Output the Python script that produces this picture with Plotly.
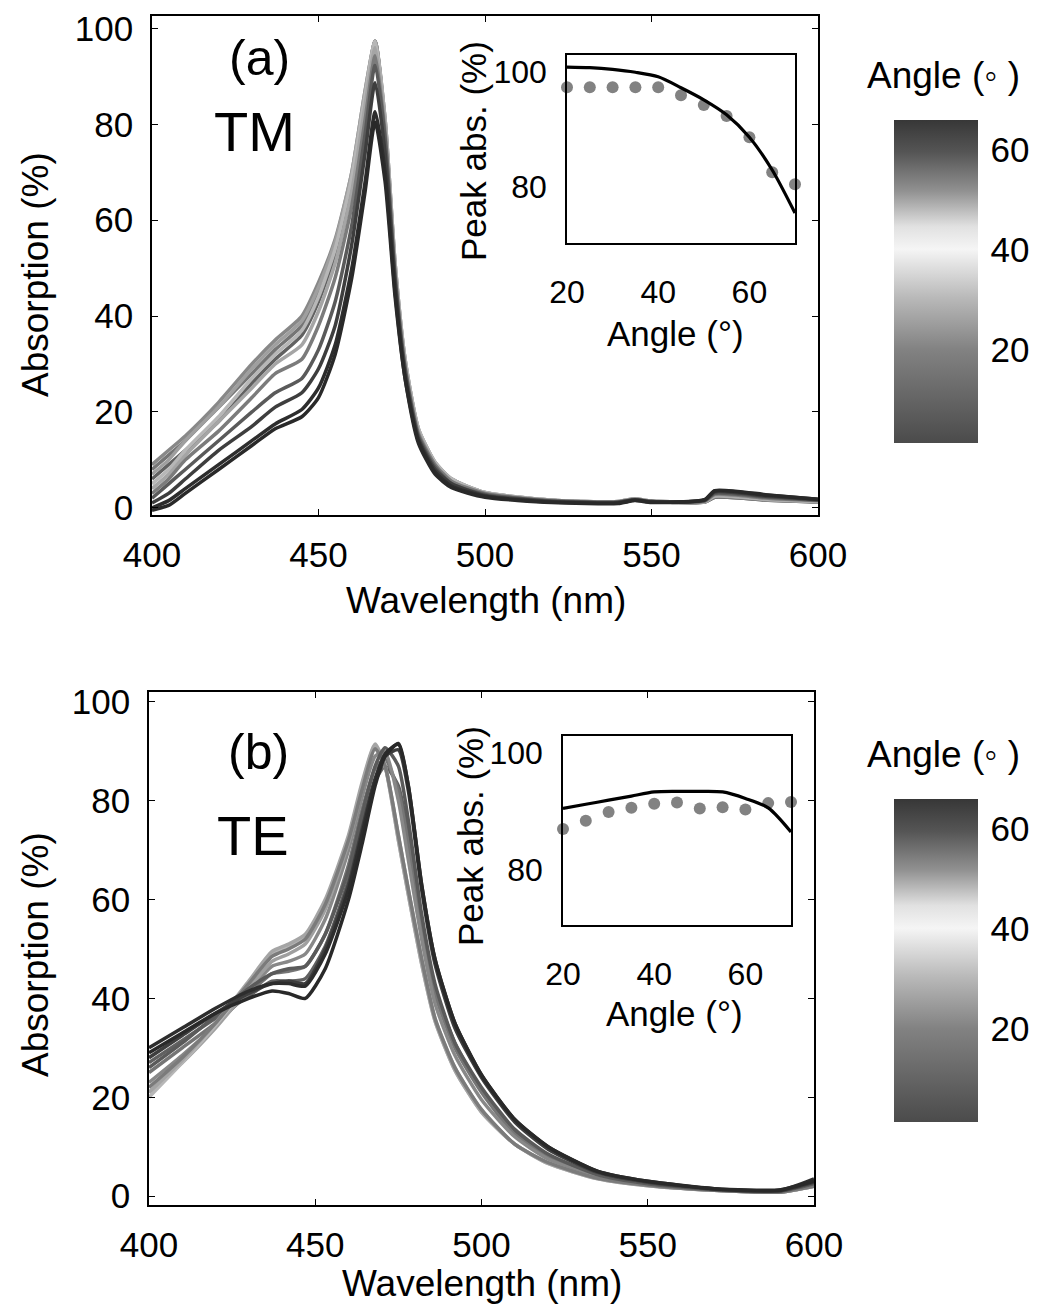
import plotly.graph_objects as go
from plotly.colors import sample_colorscale

# page body has an 8 px default margin: size the figure so it fits the 1039x1316 window
OFF = 8
FW, FH = 1039 - OFF, 1316 - OFF

# ---------------- data ----------------
angles = [20, 25, 30, 35, 40, 45, 50, 55, 60, 65, 70]

wl_tm = [400, 405, 410, 420, 430, 437, 445, 450, 455, 460, 464, 467, 470, 473, 476,
         480, 485, 490, 500, 520, 540, 545, 550, 566, 569, 585, 600]
abs_tm = {
    20: [6, 9, 12, 18, 26, 31, 36, 43, 53, 68, 85, 97.4, 80, 50, 30, 16, 9, 5.5, 3, 1.5, 1.2, 1.8, 1.3, 1.2, 2.2, 1.6, 1.2],
    25: [8, 11, 14, 21, 28, 33, 38, 45, 55, 69, 86, 97.4, 80, 50, 30, 16, 9, 5.5, 3, 1.5, 1.2, 1.8, 1.3, 1.2, 2.2, 1.6, 1.2],
    30: [9, 12, 15, 22, 30, 35, 40, 47, 56, 70, 87, 97.4, 81, 51, 31, 16.5, 9.5, 6, 3.2, 1.6, 1.3, 1.9, 1.4, 1.3, 2.4, 1.7, 1.3],
    35: [7, 10, 14, 21, 29, 34, 39, 46, 55.5, 70, 87, 97.4, 81, 51, 31, 16.5, 9.5, 6, 3.2, 1.6, 1.3, 1.9, 1.4, 1.3, 2.4, 1.7, 1.3],
    40: [5, 8, 12, 19, 27, 32, 37, 44, 54, 69, 86, 97.4, 81, 51, 31, 16.5, 9.5, 6, 3.2, 1.6, 1.3, 1.9, 1.4, 1.3, 2.5, 1.8, 1.3],
    45: [4, 7, 11, 18, 25, 30, 34, 41, 51, 66, 84, 96.0, 80, 50, 30, 16, 9, 5.5, 3, 1.5, 1.2, 1.8, 1.3, 1.3, 2.6, 1.9, 1.4],
    50: [3, 6, 10, 16, 23, 28, 31, 38, 48, 63, 81, 94.3, 78, 49, 29.5, 15.5, 9, 5.5, 3, 1.5, 1.2, 1.8, 1.3, 1.4, 2.8, 2.0, 1.5],
    55: [2, 5, 8, 14, 20, 24, 27, 33, 43, 59, 78, 92.4, 77, 48, 29, 15, 8.5, 5, 2.8, 1.4, 1.2, 1.7, 1.3, 1.5, 3.0, 2.2, 1.6],
    60: [1, 3, 6, 12, 17, 21, 24, 29, 38, 55, 74, 88.7, 74, 47, 28, 14.5, 8, 5, 2.6, 1.3, 1.1, 1.7, 1.3, 1.6, 3.3, 2.4, 1.7],
    65: [0, 1.5, 4, 9, 14, 17.5, 20.5, 25, 34, 50, 68, 82.6, 70, 45, 27, 14, 7.5, 4.5, 2.4, 1.2, 1.0, 1.6, 1.2, 1.7, 3.5, 2.6, 1.8],
    70: [-0.5, 0.5, 3, 8, 13, 16.5, 19, 23, 32, 48, 66, 80.5, 68, 44, 27, 13.5, 7, 4.2, 2.2, 1.1, 0.9, 1.5, 1.1, 1.7, 3.6, 2.7, 1.8],
}

wl_te = [400, 410, 420, 430, 437, 442, 447, 453, 460, 464, 468, 471, 475, 478, 482,
         486, 492, 500, 510, 520, 535, 550, 570, 590, 600]
abs_te = {
    20: [27, 31.5, 36, 40.5, 43.5, 43.5, 44, 50.5, 64, 75, 84, 87.0, 83, 73, 56, 42, 31, 21.5, 13, 8.2, 4.1, 2.4, 1.3, 1.0, 2.6],
    25: [25, 30, 35, 41, 45, 45.5, 46.5, 53, 67, 78, 86.5, 88.4, 82, 71, 54, 41, 30, 21, 12.5, 8, 4, 2.4, 1.3, 1.0, 2.4],
    30: [23, 28.5, 34.5, 41.5, 46.5, 47.5, 49, 56, 70, 80.5, 89, 89.9, 80, 68, 52, 39, 28.5, 19.5, 12, 7.5, 3.9, 2.3, 1.2, 0.9, 2.2],
    35: [21, 27, 34, 42, 47.5, 49, 51, 58, 71.5, 82, 90.6, 87, 73, 62, 48, 36, 26, 17.5, 10.5, 6.8, 3.6, 2.2, 1.2, 0.8, 2.0],
    40: [20, 27, 34.5, 43, 49, 50.5, 52.5, 59.5, 72.5, 83, 91.3, 87, 72, 61, 47, 35.5, 25.5, 17, 10.5, 6.6, 3.5, 2.1, 1.2, 0.8, 2.0],
    45: [21, 27.5, 35, 43.5, 49.5, 51, 53, 60, 73, 83.5, 91.5, 87, 72, 61, 47, 35.5, 25.5, 17, 10.5, 6.6, 3.5, 2.1, 1.2, 0.8, 2.0],
    50: [22, 28, 35, 43, 48.5, 50, 52, 59, 72, 82, 90.5, 87, 73, 62, 48, 36, 26, 17.5, 10.5, 6.8, 3.6, 2.2, 1.2, 0.8, 2.0],
    55: [26, 31, 36.5, 42, 45, 46, 46.5, 53, 66, 77, 87, 90.7, 87, 76, 57, 43, 31, 22, 13.5, 8.5, 4.3, 2.5, 1.3, 1.0, 2.5],
    60: [28, 32.5, 37, 41, 43, 43.5, 43, 50, 63, 74, 84.5, 89, 90.3, 82, 62, 47, 34, 24, 15, 9.5, 4.8, 2.8, 1.4, 1.1, 2.8],
    65: [30, 34, 38, 41.5, 43, 43, 42.5, 49, 62, 73, 84, 89.5, 91.4, 83, 63, 48, 35, 24.5, 15.5, 10, 5, 3, 1.5, 1.2, 3.5],
    70: [29, 33, 37, 40, 41.5, 41, 40, 46, 60, 71, 83, 89, 91.6, 83, 63, 48, 35, 24.5, 15.5, 10, 5, 3, 1.5, 1.3, 3.0],
}

inset_angles = [20, 25, 30, 35, 40, 45, 50, 55, 60, 65, 70]
tm_peak_meas = [97.4, 97.4, 97.4, 97.4, 97.4, 96.0, 94.3, 92.4, 88.7, 82.6, 80.5]
tm_peak_sim = [100.9, 100.8, 100.5, 100.0, 99.2, 97.3, 95.2, 92.6, 88.7, 83.0, 75.5]
te_peak_meas = [87.0, 88.4, 89.9, 90.6, 91.3, 91.5, 90.5, 90.7, 90.3, 91.4, 91.6]
te_peak_sim = [90.5, 91.2, 91.9, 92.6, 93.3, 93.4, 93.4, 93.3, 92.2, 90.6, 86.5]

main_xticks = [400, 450, 500, 550, 600]
main_yticks = [0, 20, 40, 60, 80, 100]
inset_xticks = [20, 40, 60]
inset_yticks = [80, 100]
cbar_ticks = [20, 40, 60]

# ---------------- style ----------------
FONT = "Liberation Sans"
cmin, cmax = 1.4, 66.0
cscale = [
    [0.0, "rgb(75,75,75)"],
    [0.29, "rgb(130,130,130)"],
    [0.45, "rgb(185,185,185)"],
    [0.60, "rgb(245,245,245)"],
    [0.67, "rgb(225,225,225)"],
    [0.78, "rgb(145,145,145)"],
    [0.90, "rgb(85,85,85)"],
    [1.0, "rgb(55,55,55)"],
]


def line_color(a):
    t = min(max((a - cmin) / (cmax - cmin), 0.0), 1.0)
    c = sample_colorscale(cscale, [t])[0]
    vals = [float(v) for v in c[c.index("(") + 1:c.index(")")].split(",")]
    vals = [int(v * 0.75) for v in vals]
    return "rgb(%d,%d,%d)" % tuple(vals)


def px_x(x):
    return (x - OFF) / FW


def px_y(y):
    return 1 - (y - OFF) / FH


fig = go.Figure()

# main curves
for a in angles:
    fig.add_trace(go.Scatter(x=wl_tm, y=abs_tm[a], mode="lines", line=dict(color=line_color(a), width=3.5, shape="spline", smoothing=0.6),
                             xaxis="x", yaxis="y", showlegend=False))
for a in angles:
    fig.add_trace(go.Scatter(x=wl_te, y=abs_te[a], mode="lines", line=dict(color=line_color(a), width=3.5, shape="spline", smoothing=0.6),
                             xaxis="x3", yaxis="y3", showlegend=False))

# insets
for xa, ya, meas, sim in (("x2", "y2", tm_peak_meas, tm_peak_sim), ("x4", "y4", te_peak_meas, te_peak_sim)):
    fig.add_trace(go.Scatter(x=inset_angles, y=meas, mode="markers", marker=dict(size=12, color="rgb(130,130,130)"),
                             cliponaxis=False, xaxis=xa, yaxis=ya, showlegend=False))
    fig.add_trace(go.Scatter(x=inset_angles, y=sim, mode="lines", line=dict(color="black", width=3.2, shape="spline", smoothing=0.8),
                             xaxis=xa, yaxis=ya, showlegend=False))

# colorbars
for ycen, xa, ya in ((px_y(281.5), "x", "y"), (px_y(960.5), "x3", "y3")):
    fig.add_trace(go.Scatter(x=[None], y=[None], mode="markers", xaxis=xa, yaxis=ya, showlegend=False,
                             marker=dict(color=[cmin, cmax], cmin=cmin, cmax=cmax, colorscale=cscale, showscale=True,
                                         colorbar=dict(thickness=84, thicknessmode="pixels", len=323, lenmode="pixels",
                                                       x=px_x(894), xanchor="left", y=ycen, yanchor="middle",
                                                       outlinewidth=0, xpad=0, ypad=0, tickvals=cbar_ticks,
                                                       ticks="outside", ticklen=6, tickcolor="rgba(0,0,0,0)",
                                                       tickfont=dict(family=FONT, size=35, color="black"))),
                             hoverinfo="skip"))

main_ax = dict(showline=True, linecolor="black", linewidth=1.5, mirror="allticks", ticks="inside", ticklen=6,
               tickcolor="black", showgrid=False, zeroline=False, automargin=False, ticklabeloverflow="allow",
               tickfont=dict(family=FONT, size=35, color="black"))
inset_ax = dict(showline=True, linecolor="black", linewidth=1.5, mirror=True, ticks="", showgrid=False, zeroline=False,
                automargin=False, ticklabeloverflow="allow", tickfont=dict(family=FONT, size=32, color="black"))

fig.update_layout(
    width=FW, height=FH, margin=dict(l=0, r=0, t=0, b=0, autoexpand=False), paper_bgcolor="white",
    plot_bgcolor="rgba(0,0,0,0)", showlegend=False,
    xaxis=dict(main_ax, domain=[px_x(152), px_x(818)], range=[400, 600], tickvals=main_xticks, anchor="y", ticklabelstandoff=8),
    yaxis=dict(main_ax, domain=[px_y(515), px_y(16)], range=[-1.5, 102.6], tickvals=main_yticks, anchor="x", ticklabelstandoff=10),
    xaxis2=dict(inset_ax, domain=[px_x(567), px_x(795)], range=[20, 70], tickvals=inset_xticks, anchor="y2", ticklabelstandoff=20),
    yaxis2=dict(inset_ax, domain=[px_y(243), px_y(55)], range=[70.3, 103], tickvals=inset_yticks, anchor="x2", ticklabelstandoff=12),
    xaxis3=dict(main_ax, domain=[px_x(149), px_x(814)], range=[400, 600], tickvals=main_xticks, anchor="y3", ticklabelstandoff=8),
    yaxis3=dict(main_ax, domain=[px_y(1205), px_y(692)], range=[-1.8, 102], tickvals=main_yticks, anchor="x3", ticklabelstandoff=10),
    xaxis4=dict(inset_ax, domain=[px_x(563), px_x(791)], range=[20, 70], tickvals=inset_xticks, anchor="y4", ticklabelstandoff=20),
    yaxis4=dict(inset_ax, domain=[px_y(925), px_y(736)], range=[70.7, 102.8], tickvals=inset_yticks, anchor="x4", ticklabelstandoff=12),
)

texts = [
    ("Absorption (%)", 35, 275, 37, -90),
    ("Wavelength (nm)", 486, 600, 37, 0),
    ("Peak abs. (%)", 473, 151, 35, -90),
    ("Angle (°)", 675, 333, 35, 0),
    ("(a)", 259, 58, 50, 0),
    ("TM", 254, 131, 56, 0),
    ("Angle (◦ )", 943, 75, 37, 0),
    ("Absorption (%)", 35, 955, 37, -90),
    ("Wavelength (nm)", 482, 1283, 37, 0),
    ("Peak abs. (%)", 470, 836, 35, -90),
    ("Angle (°)", 674, 1013, 35, 0),
    ("(b)", 258, 752, 50, 0),
    ("TE", 253, 835, 56, 0),
    ("Angle (◦ )", 943, 754, 37, 0),
]
for t, x, y, s, ang in texts:
    fig.add_annotation(text=t, x=px_x(x), y=px_y(y), xref="paper", yref="paper", xanchor="center", yanchor="middle",
                       showarrow=False, textangle=ang, font=dict(family=FONT, size=s, color="black"))

fig.write_html("out.html")
